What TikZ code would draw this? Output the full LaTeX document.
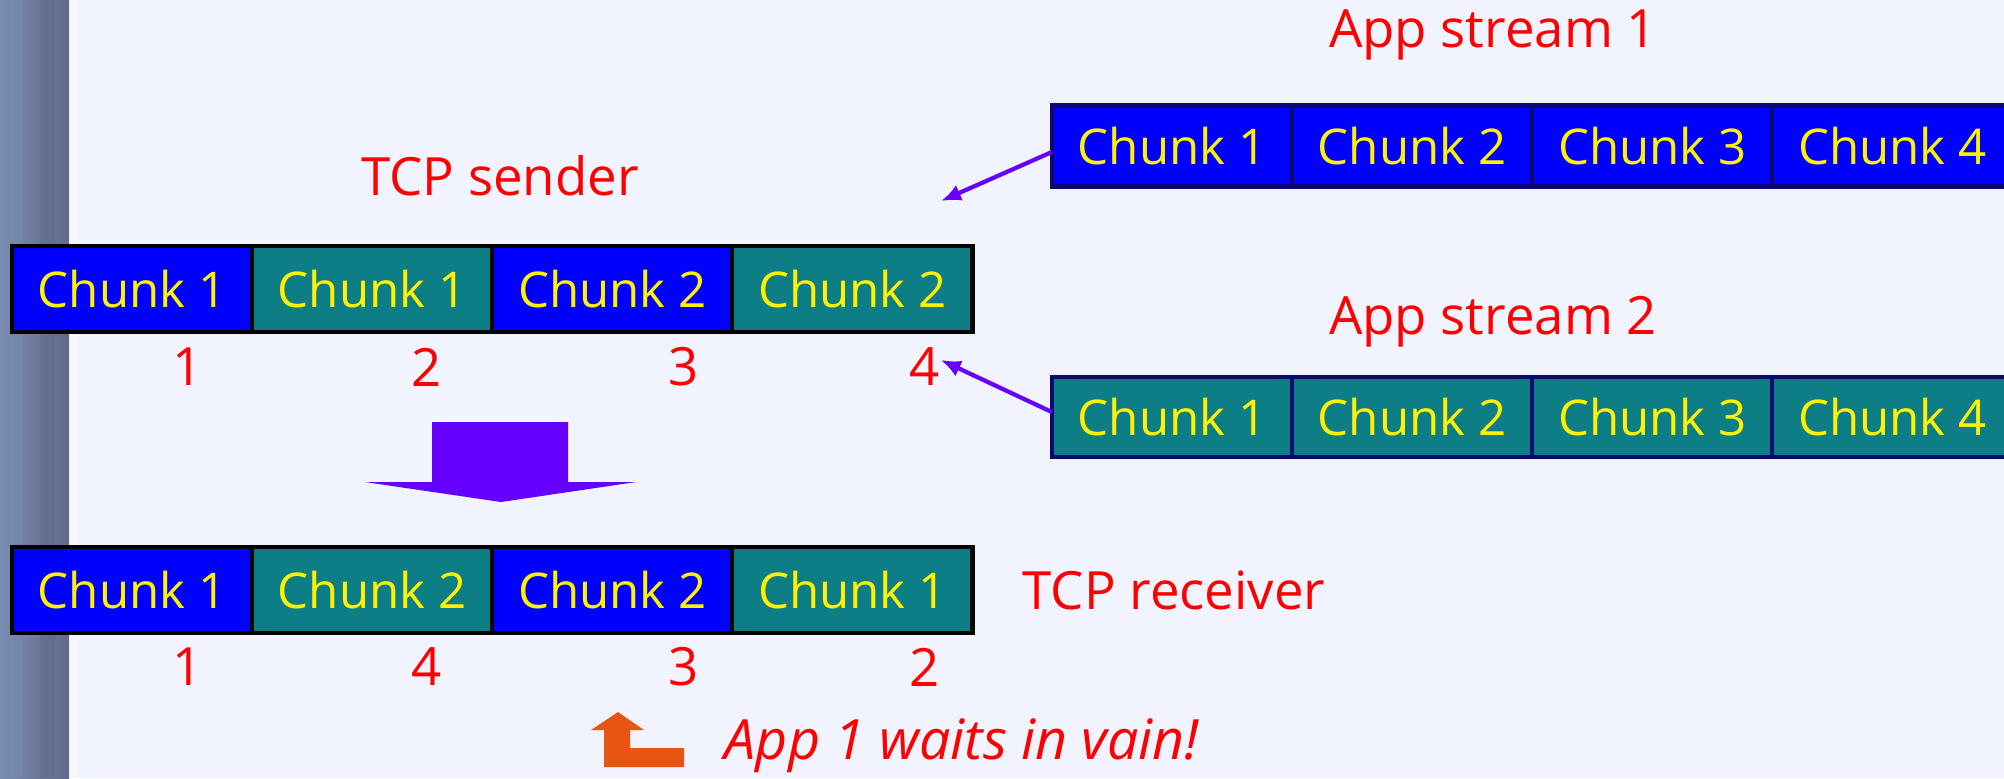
\documentclass[tikz,border=0pt]{standalone}
\usepackage{fontspec}
\setmainfont{Open Sans}
\usetikzlibrary{arrows, arrows.meta, positioning}
\definecolor{bgPale}{RGB}{241,244,254}
\definecolor{chunkBlue}{RGB}{0,0,255}
\definecolor{chunkTeal}{RGB}{13,125,134}
\definecolor{arrowPurple}{RGB}{102,0,255}
\definecolor{waitOrange}{RGB}{232,84,18}
\definecolor{stripeA}{RGB}{122,140,178}
\definecolor{stripeB}{RGB}{96,106,140}
\definecolor{streamEdge}{RGB}{10,10,110}
\tikzstyle{chunk} = [rectangle, 
			draw, 
			line width = 1.2pt, 
			outer sep = 0pt, 
			inner sep = 0pt, 
			text = yellow, 
			text centered, 
			minimum width = 2.4cm, 
			minimum height = 0.86cm, 
			font = \fontsize{14}{16}\selectfont]
\tikzstyle{blueChunk} = [chunk, fill = chunkBlue]
\tikzstyle{tealChunk} = [chunk, fill = chunkTeal]
\tikzstyle{streamBlue} = [blueChunk, draw = streamEdge, minimum height = 0.81cm]
\tikzstyle{streamTeal} = [tealChunk, draw = streamEdge, minimum height = 0.8cm]
\tikzstyle{redText} = [text = red, inner sep = 0pt, font = \fontsize{15}{18}\selectfont]
\tikzstyle{seqNum} = [redText]
\tikzstyle{line} = [draw, arrowPurple, line width = 1.2pt, -{Latex[length=0.2cm, width=0.17cm]}]

\begin{document}
\begin{tikzpicture}[x = 0.01cm, y = -0.01cm]
	\fill [bgPale] (0,0) rectangle (2004,778);
	\useasboundingbox (0,0) rectangle (2004,778);
	% left stripe
	\shade [left color = stripeA, right color = stripeB] (0,0) rectangle (69,778);
	\fill [stripeB, opacity = 0.5] (40,0) rectangle (55,778);
	\fill [stripeA, opacity = 0.4] (10,0) rectangle (22,778);
	\fill [white, opacity = 0.4] (69,0) rectangle (78,778);

	% TCP sender
	\node [redText] (sndTitle) at (500,176) {TCP sender};
	\node [blueChunk] (snd1) at (132,289) {Chunk 1};
	\node [tealChunk, right=0pt of snd1] (snd2) {Chunk 1};
	\node [blueChunk, right=0pt of snd2] (snd3) {Chunk 2};
	\node [tealChunk, right=0pt of snd3] (snd4) {Chunk 2};
	\node [seqNum] (sn1) at (188,367) {1};
	\node [seqNum] (sn2) at (427,367) {2};
	\node [seqNum] (sn3) at (684,367) {3};
	\node [seqNum] (sn4) at (925,367) {4};

	% app streams
	\node [redText] (str1Title) at (1493,35) {App stream 1};
	\node [streamBlue] (str1c1) at (1172,146) {Chunk 1};
	\node [streamBlue, right=0pt of str1c1] (str1c2) {Chunk 2};
	\node [streamBlue, right=0pt of str1c2] (str1c3) {Chunk 3};
	\node [streamBlue, right=0pt of str1c3] (str1c4) {Chunk 4};
	\node [redText] (str2Title) at (1493,322) {App stream 2};
	\node [streamTeal] (str2c1) at (1172,417) {Chunk 1};
	\node [streamTeal, right=0pt of str2c1] (str2c2) {Chunk 2};
	\node [streamTeal, right=0pt of str2c2] (str2c3) {Chunk 3};
	\node [streamTeal, right=0pt of str2c3] (str2c4) {Chunk 4};
	\coordinate (slot) at (941,201);
	\path [line] ([yshift=-1.7pt]str1c1.west) -- (slot);
	\path [line] ([yshift=1.4pt]str2c1.west) -- ([yshift=2pt]sn4.east);

	% network
	\fill [arrowPurple] (432,422) -- (568,422) -- (568,482) -- (636,482)
		-- (501,502) -- (365,482) -- (432,482) -- cycle;

	% TCP receiver
	\node [blueChunk] (rcv1) at (132,590) {Chunk 1};
	\node [tealChunk, right=0pt of rcv1] (rcv2) {Chunk 2};
	\node [blueChunk, right=0pt of rcv2] (rcv3) {Chunk 2};
	\node [tealChunk, right=0pt of rcv3] (rcv4) {Chunk 1};
	\node [redText, anchor=west] (rcvTitle) at (1022,590) {TCP receiver};
	\node [seqNum] (rn1) at (188,667) {1};
	\node [seqNum] (rn2) at (427,667) {4};
	\node [seqNum] (rn3) at (684,667) {3};
	\node [seqNum] (rn4) at (925,667) {2};

	% blocked application
	\fill [waitOrange] (618,712) -- (644,730) -- (630,730) -- (630,748) -- (684,748)
		-- (684,767) -- (604,767) -- (604,730) -- (591,730) -- cycle;
	\node [redText, anchor=west, font=\fontsize{15.8}{18}\selectfont\itshape] (waitNote) at (724,746) {App 1 waits in vain!};
\end{tikzpicture}
\end{document}
